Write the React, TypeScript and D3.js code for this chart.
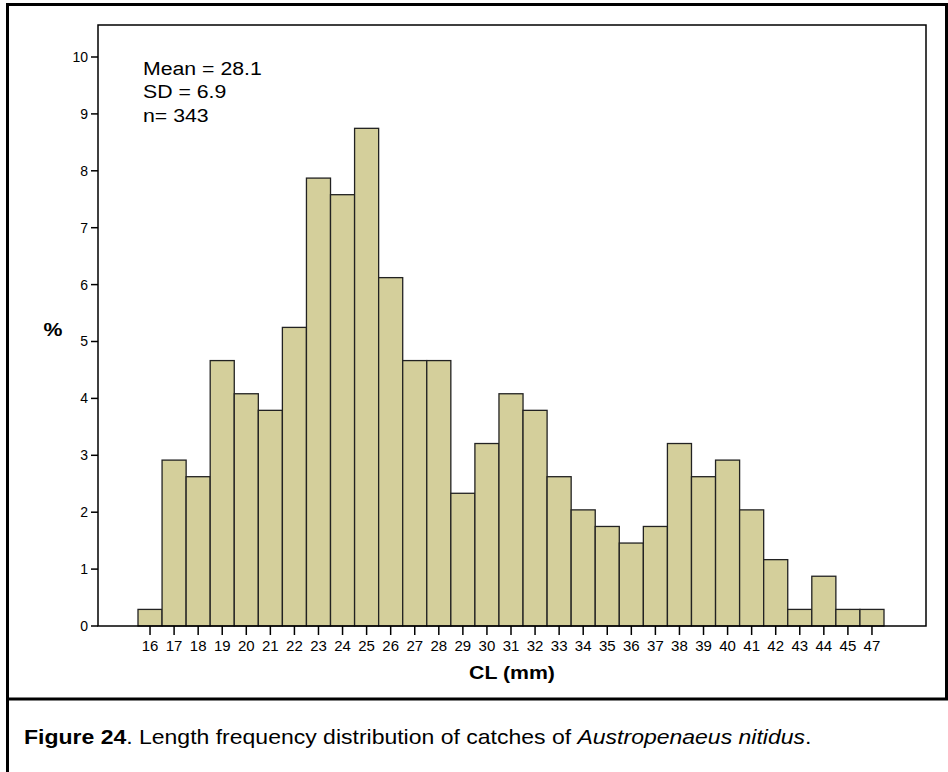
import * as d3 from 'd3';

const sizes = ['16','17','18','19','20','21','22','23','24','25','26','27','28','29','30','31','32','33','34','35','36','37','38','39','40','41','42','43','44','45','47'];
const counts = [1,10,9,16,14,13,18,27,26,30,21,16,16,8,11,14,13,9,7,6,5,6,11,9,10,7,4,1,3,1,1];
const total = 343;
const yTicks = [0,1,2,3,4,5,6,7,8,9,10];
const stats = ['Mean = 28.1', 'SD = 6.9', 'n= 343'];

const W = 948, H = 772;
const frame = { left: 98, top: 25, right: 926, bottom: 626 };
const font = 'Liberation Sans, Arial, sans-serif';
// the original figure is slightly stretched horizontally
const sx = 1.12;

export default function App() {
  const x = d3.scaleBand<string>().domain(sizes).range([138, 884]).padding(0);
  const y = d3.scaleLinear().domain([0, 10]).range([frame.bottom, 57]);
  const pct = counts.map(c => (c / total) * 100);

  return (
    <svg width={W} height={H} style={{ position: 'absolute', left: 0, top: 0, background: '#fff' }} fontFamily={font}>
      {/* outer box */}
      <path d={`M7.5,${H} V4.5 H946.5 V699`} fill="none" stroke="#000" strokeWidth={3} />
      <line x1={7} x2={W} y1={699} y2={699} stroke="#000" strokeWidth={3} />

      {/* bars */}
      {pct.map((v, i) => (
        <rect key={sizes[i]} x={x(sizes[i])} y={y(v)} width={x.bandwidth()} height={frame.bottom - y(v)}
          fill="#d4cf9b" stroke="#222" strokeWidth={1.3} />
      ))}

      {/* frame */}
      <rect x={frame.left} y={frame.top} width={frame.right - frame.left} height={frame.bottom - frame.top}
        fill="none" stroke="#000" strokeWidth={1.5} />

      {/* y axis */}
      {yTicks.map(t => (
        <g key={t} transform={`translate(${frame.left},${y(t)})`}>
          <line x1={-7} x2={0} stroke="#000" strokeWidth={1.5} />
          <text x={-10} dy="0.35em" textAnchor="end" fontSize={14}>{t}</text>
        </g>
      ))}
      <g transform={`translate(53,329) scale(${sx},1)`}>
        <text dy="0.35em" textAnchor="middle" fontSize={19} fontWeight="bold">%</text>
      </g>

      {/* x axis */}
      {sizes.map(s => (
        <g key={s} transform={`translate(${(x(s) ?? 0) + x.bandwidth() / 2},${frame.bottom})`}>
          <line y1={0} y2={9} stroke="#000" strokeWidth={1.5} />
          <text y={20} dy="0.35em" textAnchor="middle" fontSize={15}>{s}</text>
        </g>
      ))}
      <g transform={`translate(${(frame.left + frame.right) / 2},672) scale(${sx},1)`}>
        <text dy="0.35em" textAnchor="middle" fontSize={19} fontWeight="bold">CL (mm)</text>
      </g>

      {/* stats */}
      <g transform={`translate(143,0) scale(${sx},1)`}>
        {stats.map((s, i) => (
          <text key={s} x={0} y={68 + i * 23.5} dy="0.35em" fontSize={19}>{s}</text>
        ))}
      </g>

      {/* caption */}
      <g transform={`translate(24,737) scale(1.15,1)`}>
        <text dy="0.35em" fontSize={20}>
          <tspan fontWeight="bold">Figure 24</tspan>. Length frequency distribution of catches of <tspan fontStyle="italic">Austropenaeus nitidus</tspan>.
        </text>
      </g>
    </svg>
  );
}
